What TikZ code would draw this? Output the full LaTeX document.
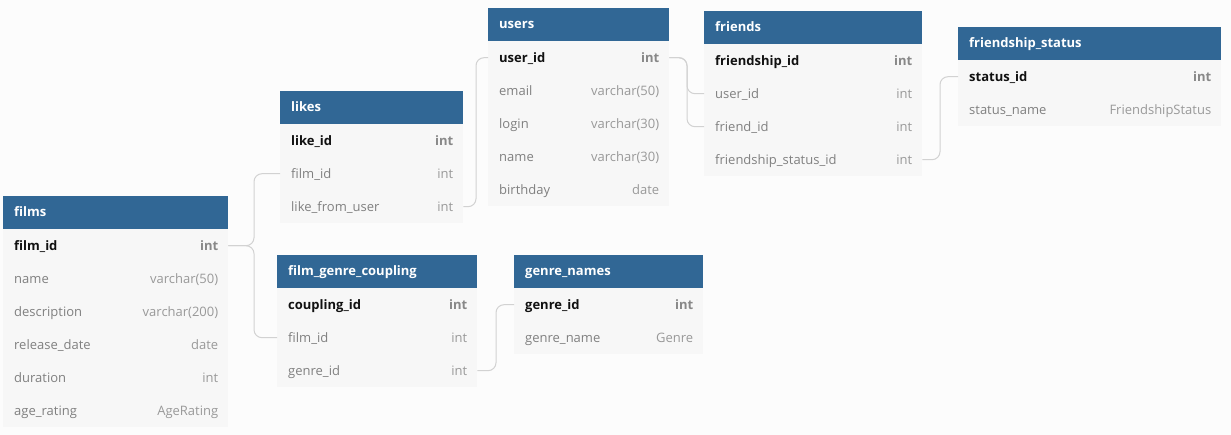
\documentclass[tikz,border=0pt]{standalone}
\usepackage{fontspec}
\setmainfont{Open Sans}
\definecolor{pagebg}{HTML}{FCFCFC}
\definecolor{headbg}{HTML}{316795}
\definecolor{rowbg}{HTML}{F7F7F7}
\definecolor{pkname}{HTML}{111111}
\definecolor{pktype}{HTML}{888888}
\definecolor{fname}{HTML}{808080}
\definecolor{ftype}{HTML}{999999}
\definecolor{connc}{HTML}{D2D2D2}
\tikzset{
  headbox/.style={draw=none,fill=headbg,minimum height=33pt,inner sep=0pt,anchor=north west},
  rowbox/.style={draw=none,fill=rowbg,minimum height=33pt,inner sep=0pt,anchor=north west},
  txt/.style={inner sep=0pt,text height=9pt,text depth=3pt,font=\fontsize{13}{15}\selectfont},
  headtxt/.style={txt,text=white,font=\fontsize{13}{15}\selectfont\bfseries},
  pkn/.style={txt,text=pkname,font=\fontsize{13}{15}\selectfont\bfseries},
  pkt/.style={txt,text=pktype,font=\fontsize{13}{15}\selectfont\bfseries},
  fn/.style={txt,text=fname},
  ft/.style={txt,text=ftype},
  conn/.style={draw=connc,line width=1pt,rounded corners=8pt}
}
% #1 id, #2 left x, #3 top y, #4 width, #5 title, #6 rows
\newcommand\ertable[6]{%
  \node[headbox,minimum width=#4pt] (#1-h) at (#2,#3) {};
  \node[headtxt,anchor=west] (#1-ht) at ([xshift=11pt,yshift=-1pt]#1-h.west) {#5};
  \foreach \fld/\typ [count=\i] in {#6} {
    \node[rowbox,minimum width=#4pt] (#1-\i) at (#2,#3+33*\i) {};
    \ifnum\i=1
      \node[pkn,anchor=west] (#1-\i n) at ([xshift=11pt,yshift=-1.5pt]#1-\i.west) {\fld};
      \node[pkt,anchor=east] (#1-\i t) at ([xshift=-10pt,yshift=-1.5pt]#1-\i.east) {\typ};
    \else
      \node[fn,anchor=west] (#1-\i n) at ([xshift=11pt,yshift=-1.5pt]#1-\i.west) {\fld};
      \node[ft,anchor=east] (#1-\i t) at ([xshift=-10pt,yshift=-1.5pt]#1-\i.east) {\typ};
    \fi
  }%
}
\begin{document}
\begin{tikzpicture}[x=1pt,y=-1pt]
\useasboundingbox (0,0) rectangle (1231,435);
\fill[pagebg] (0,0) rectangle (1231,435);

\ertable{films}{3}{196}{225}{films}{film\_id/int,name/varchar(50),description/varchar(200),release\_date/date,duration/int,age\_rating/AgeRating}
\ertable{likes}{280}{91}{183}{likes}{like\_id/int,film\_id/int,like\_from\_user/int}
\ertable{users}{488}{8}{181}{users}{user\_id/int,email/varchar(50),login/varchar(30),name/varchar(30),birthday/date}
\ertable{friends}{704}{11}{218}{friends}{friendship\_id/int,user\_id/int,friend\_id/int,friendship\_status\_id/int}
\ertable{fstatus}{958}{27}{263}{friendship\_status}{status\_id/int,status\_name/FriendshipStatus}
\ertable{fgc}{277}{255}{200}{film\_genre\_coupling}{coupling\_id/int,film\_id/int,genre\_id/int}
\ertable{genres}{514}{255}{189}{genre\_names}{genre\_id/int,genre\_name/Genre}

\coordinate (v1) at (254,0);
\coordinate (v2) at (476,0);
\coordinate (v3) at (687,0);
\coordinate (v4) at (940,0);
\coordinate (v5) at (496,0);

\draw[conn] (films-1.east) -- (films-1.east -| v1) -- (v1 |- likes-2.west) -- (likes-2.west);
\draw[conn] (films-1.east) -- (films-1.east -| v1) -- (v1 |- fgc-2.west) -- (fgc-2.west);
\draw[conn] (likes-3.east) -- (likes-3.east -| v2) -- (v2 |- users-1.west) -- (users-1.west);
\draw[conn] (users-1.east) -- (users-1.east -| v3) -- (v3 |- friends-2.west) -- (friends-2.west);
\draw[conn] (users-1.east) -- (users-1.east -| v3) -- (v3 |- friends-3.west) -- (friends-3.west);
\draw[conn] (friends-4.east) -- (friends-4.east -| v4) -- (v4 |- fstatus-1.west) -- (fstatus-1.west);
\draw[conn] (fgc-3.east) -- (fgc-3.east -| v5) -- (v5 |- genres-1.west) -- (genres-1.west);
\end{tikzpicture}
\end{document}
